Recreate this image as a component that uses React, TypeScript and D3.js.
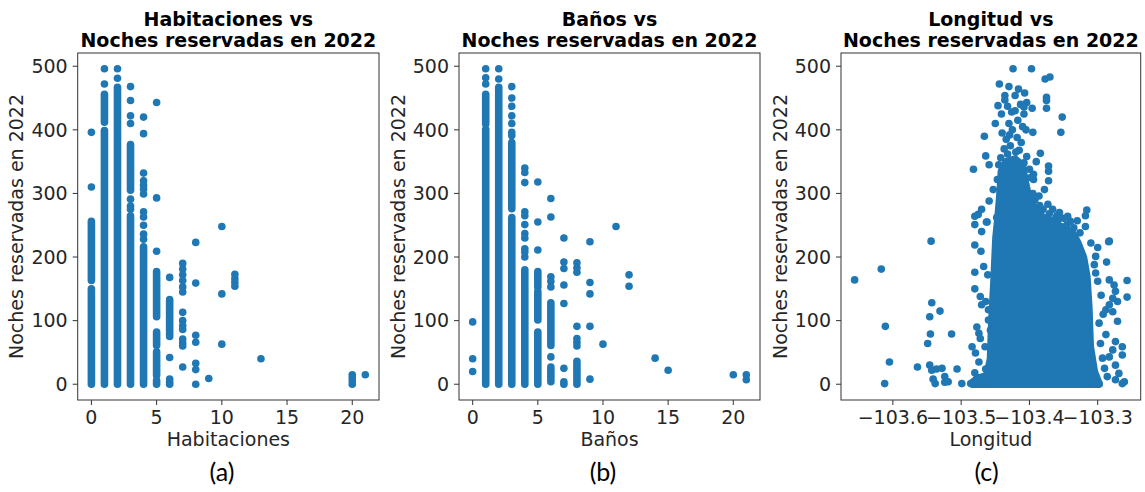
import React from "react";
import * as d3 from "d3";

// ---------- DATA ----------
const nightsTicks = [0, 100, 200, 300, 400, 500];
const countTicks = [0, 5, 10, 15, 20];
const lonTicks = [-103.6, -103.5, -103.4, -103.3];

// Habitaciones: dense runs of points [x, nightsFrom, nightsTo]
const habDenseRanges: [number, number, number][] = [
  [0, 163, 256], [0, 0, 150],
  [1, 412, 456], [1, 0, 399],
  [2, 0, 467],
  [3, 305, 377], [3, 0, 265],
  [4, 0, 216],
  [5, 106, 177], [5, 61, 82], [5, 14, 51], [5, 0, 6],
  [6, 75, 133],
];
// Habitaciones: single points [x, nights]
const habPoints: [number, number][] = [
  [0, 396], [0, 310],
  [1, 496], [1, 472],
  [2, 496], [2, 481],
  [3, 468], [3, 446], [3, 422], [3, 410], [3, 291], [3, 280], [3, 275],
  [4, 420], [4, 394], [4, 332], [4, 320], [4, 313], [4, 307], [4, 299], [4, 271], [4, 263], [4, 250], [4, 236], [4, 228],
  [5, 443], [5, 293], [5, 209],
  [6, 168], [6, 42], [6, 8], [6, 3], [6, 0],
  [7, 190], [7, 181], [7, 172], [7, 163], [7, 153], [7, 145], [7, 113], [7, 100], [7, 92], [7, 86], [7, 71], [7, 65], [7, 60], [7, 27],
  [8, 223], [8, 159], [8, 77], [8, 66], [8, 33], [8, 23], [8, 0],
  [9, 9],
  [10, 248], [10, 142], [10, 63],
  [11, 173], [11, 166], [11, 160], [11, 154],
  [13, 40],
  [20, 15], [20, 10], [20, 5], [20, 0],
  [21, 15],
];

// Baños: dense runs [x, nightsFrom, nightsTo]
const banosDenseRanges: [number, number, number][] = [
  [1, 409, 456], [1, 0, 401],
  [2, 0, 467],
  [3, 276, 380], [3, 0, 262],
  [4, 0, 180],
  [5, 153, 177], [5, 101, 146], [5, 0, 82],
  [6, 61, 128], [6, 4, 27],
  [8, 0, 36],
];
// Baños: single points
const banosPoints: [number, number][] = [
  [0, 98], [0, 40], [0, 20],
  [1, 496], [1, 482], [1, 472],
  [2, 496], [2, 480],
  [3, 468], [3, 450], [3, 437], [3, 422], [3, 410], [3, 396], [3, 391],
  [4, 340], [4, 333], [4, 317], [4, 271], [4, 265], [4, 251], [4, 237], [4, 230], [4, 213], [4, 208], [4, 200],
  [5, 318], [5, 255], [5, 211],
  [6, 292], [6, 263], [6, 169], [6, 162], [6, 153], [6, 43],
  [7, 230], [7, 192], [7, 182], [7, 156], [7, 127], [7, 25], [7, 4], [7, 0],
  [8, 191], [8, 183], [8, 176], [8, 91], [8, 72], [8, 66], [8, 60],
  [9, 224], [9, 160], [9, 142], [9, 91], [9, 8],
  [10, 63],
  [11, 248],
  [12, 172], [12, 154],
  [14, 41],
  [15, 22],
  [20, 15],
  [21, 15], [21, 7],
];

// Longitud: outline of the solid mass of overlapping points [lon, nights]
const lonDenseOutline: [number, number][] = [
  [-103.483, 0], [-103.478, 8], [-103.462, 14], [-103.457, 40], [-103.455, 100],
  [-103.452, 160], [-103.449, 230], [-103.446, 262], [-103.443, 300], [-103.441, 335],
  [-103.434, 350], [-103.421, 354], [-103.411, 345], [-103.406, 318], [-103.401, 292],
  [-103.388, 268], [-103.370, 256], [-103.350, 246], [-103.336, 236], [-103.329, 222],
  [-103.321, 200], [-103.316, 170], [-103.313, 120], [-103.311, 60], [-103.305, 20],
  [-103.300, 6], [-103.298, 0],
];
// Longitud: points outside the solid mass [lon, nights]
const lonPoints: [number, number][] = [
  [-103.656, 164], [-103.617, 181], [-103.611, 91], [-103.605, 35], [-103.612, 1],
  [-103.564, 27], [-103.544, 225], [-103.543, 128], [-103.531, 115], [-103.546, 106], [-103.545, 79], [-103.549, 64], [-103.514, 79],
  [-103.546, 30], [-103.543, 22], [-103.528, 25], [-103.536, 24], [-103.524, 12], [-103.538, 1], [-103.524, 3], [-103.519, 4], [-103.506, 24], [-103.499, 1], [-103.541, 8],
  [-103.480, 251], [-103.462, 255], [-103.470, 240], [-103.480, 219], [-103.471, 209], [-103.467, 185], [-103.480, 176], [-103.461, 172],
  [-103.480, 150], [-103.472, 138], [-103.464, 130], [-103.470, 125], [-103.460, 117], [-103.477, 90], [-103.474, 80], [-103.472, 72],
  [-103.465, 59], [-103.484, 59], [-103.479, 49], [-103.474, 35], [-103.464, 24], [-103.480, 18], [-103.482, 4], [-103.470, 1],
  [-103.460, 101], [-103.457, 85], [-103.486, 1], [-103.476, 10],
  [-103.283, 225], [-103.287, 192], [-103.303, 201], [-103.305, 188], [-103.303, 175], [-103.300, 162], [-103.283, 164], [-103.276, 156],
  [-103.257, 163], [-103.257, 137], [-103.274, 146], [-103.278, 135], [-103.271, 130], [-103.283, 125], [-103.288, 117], [-103.278, 114],
  [-103.271, 99], [-103.298, 96], [-103.288, 78], [-103.296, 64], [-103.274, 67], [-103.264, 59], [-103.264, 46], [-103.278, 54],
  [-103.293, 41], [-103.283, 43], [-103.274, 30], [-103.269, 17], [-103.286, 12], [-103.274, 7], [-103.261, 4], [-103.264, 1],
  [-103.298, 1], [-103.290, 25], [-103.295, 140], [-103.292, 110], [-103.300, 215], [-103.310, 222],
  [-103.424, 496], [-103.397, 496], [-103.377, 480], [-103.370, 483],
  [-103.444, 472], [-103.430, 468], [-103.416, 464], [-103.407, 458], [-103.436, 454], [-103.436, 447], [-103.421, 454],
  [-103.375, 451], [-103.375, 446], [-103.375, 434],
  [-103.446, 438], [-103.432, 437], [-103.413, 440], [-103.404, 443], [-103.408, 436], [-103.396, 434],
  [-103.441, 425], [-103.426, 428], [-103.421, 430], [-103.408, 425],
  [-103.352, 420], [-103.450, 410], [-103.430, 410], [-103.417, 415], [-103.410, 405], [-103.405, 400],
  [-103.354, 396], [-103.395, 396], [-103.466, 390], [-103.429, 392], [-103.434, 385], [-103.418, 388], [-103.412, 380],
  [-103.464, 359], [-103.459, 345], [-103.482, 338], [-103.384, 363], [-103.372, 343], [-103.372, 335], [-103.372, 320],
  [-103.390, 350], [-103.394, 330], [-103.394, 322], [-103.378, 306], [-103.453, 306], [-103.459, 288],
  [-103.470, 275], [-103.475, 267], [-103.480, 264], [-103.463, 255], [-103.448, 262],
  [-103.316, 274], [-103.318, 265], [-103.330, 257], [-103.345, 251], [-103.318, 248],
  [-103.380, 275], [-103.366, 275], [-103.358, 259], [-103.378, 259], [-103.284, 224],
  [-103.440, 395], [-103.425, 400],
  [-103.437, 370], [-103.428, 375], [-103.415, 368], [-103.432, 362], [-103.404, 358], [-103.408, 348],
  [-103.445, 345], [-103.400, 338], [-103.398, 325], [-103.447, 322], [-103.420, 365], [-103.442, 356],
  [-103.392, 290], [-103.385, 281], [-103.371, 268], [-103.360, 265], [-103.350, 261], [-103.340, 256],
  [-103.335, 246], [-103.326, 238], [-103.356, 270], [-103.373, 283], [-103.390, 272], [-103.400, 285],
  [-103.395, 300], [-103.386, 296], [-103.344, 264], [-103.365, 258],
];

// ---------- LAYOUT ----------
const W = 1145;
const H = 492;
const TOP = 53;
const BOTTOM = 400;
const BLUE = "#1f77b4";
const R = 3.8;
const FONT = "'DejaVu Sans', sans-serif";

function padded(lo: number, hi: number): [number, number] {
  const m = (hi - lo) * 0.05;
  return [lo - m, hi + m];
}

type PanelProps = {
  left: number;
  right: number;
  titleLine1: string;
  xLabel: string;
  caption: string;
  captionX: number;
  xValues: number[];
  yValues: number[];
  xTicks: number[];
  xFormat: (v: number) => string;
  ranges?: [number, number, number][];
  points: [number, number][];
  outline?: [number, number][];
};

function Panel(p: PanelProps) {
  const xd = padded(d3.min(p.xValues)!, d3.max(p.xValues)!);
  const yd = padded(d3.min(p.yValues)!, d3.max(p.yValues)!);
  const x = d3.scaleLinear().domain(xd).range([p.left, p.right]);
  const y = d3.scaleLinear().domain(yd).range([BOTTOM, TOP]);
  const cx = (p.left + p.right) / 2;
  const outlinePath = p.outline
    ? d3
        .line<[number, number]>()
        .x((d) => x(d[0]))
        .y((d) => y(d[1]))
        .curve(d3.curveLinearClosed)(p.outline)
    : null;
  return (
    <g fontFamily={FONT}>
      <text x={cx} y={26} textAnchor="middle" fontWeight="bold" fontSize={19} fill="#000">
        {p.titleLine1}
      </text>
      <text x={cx} y={47} textAnchor="middle" fontWeight="bold" fontSize={19} fill="#000">
        Noches reservadas en 2022
      </text>
      {outlinePath && (
        <path d={outlinePath} fill={BLUE} stroke={BLUE} strokeWidth={2 * R} strokeLinejoin="round" />
      )}
      {(p.ranges || []).map(([xv, a, b], i) => (
        <line
          key={"r" + i}
          x1={x(xv)}
          x2={x(xv)}
          y1={y(a)}
          y2={y(b)}
          stroke={BLUE}
          strokeWidth={2 * R}
          strokeLinecap="round"
        />
      ))}
      {p.points.map(([xv, yv], i) => (
        <circle key={"p" + i} cx={x(xv)} cy={y(yv)} r={R} fill={BLUE} />
      ))}
      <rect
        x={p.left}
        y={TOP}
        width={p.right - p.left}
        height={BOTTOM - TOP}
        fill="none"
        stroke="#333"
        strokeWidth={1}
      />
      {nightsTicks.map((t) => (
        <g key={"y" + t}>
          <line x1={p.left - 5} x2={p.left} y1={y(t)} y2={y(t)} stroke="#333" strokeWidth={1} />
          <text x={p.left - 10} y={y(t)} dy="0.36em" textAnchor="end" fontSize={19} fill="#262626">
            {t}
          </text>
        </g>
      ))}
      {p.xTicks.map((t) => (
        <g key={"x" + t}>
          <line x1={x(t)} x2={x(t)} y1={BOTTOM} y2={BOTTOM + 5} stroke="#333" strokeWidth={1} />
          <text x={x(t)} y={424} textAnchor="middle" fontSize={19} fill="#262626">
            {p.xFormat(t)}
          </text>
        </g>
      ))}
      <text x={cx} y={446} textAnchor="middle" fontSize={19} fill="#262626">
        {p.xLabel}
      </text>
      <text
        transform={`translate(${p.left - 54.5},${(TOP + BOTTOM) / 2}) rotate(-90)`}
        textAnchor="middle"
        fontSize={19}
        fill="#262626"
      >
        Noches reservadas en 2022
      </text>
      <text
        x={p.captionX}
        y={481}
        textAnchor="middle"
        fontSize={25}
        fontFamily="Lato, 'Open Sans', sans-serif"
        fill="#000"
      >
        {p.caption}
      </text>
    </g>
  );
}

export default function App() {
  const fmtInt = d3.format("d");
  const fmtLon = d3.format(".1f");
  return (
    <svg
      width={W}
      height={H}
      style={{ position: "absolute", left: 0, top: 0, background: "#fff" }}
    >
      <rect width={W} height={H} fill="#fff" />
      <Panel
        left={77.7}
        right={379}
        titleLine1="Habitaciones vs"
        xLabel="Habitaciones"
        caption="(a)"
        captionX={222}
        xValues={[...habPoints.map((d) => d[0]), ...habDenseRanges.map((d) => d[0])]}
        yValues={[...habPoints.map((d) => d[1]), ...habDenseRanges.flatMap((d) => [d[1], d[2]])]}
        xTicks={countTicks}
        xFormat={fmtInt}
        ranges={habDenseRanges}
        points={habPoints}
      />
      <Panel
        left={459}
        right={760}
        titleLine1="Baños vs"
        xLabel="Baños"
        caption="(b)"
        captionX={603}
        xValues={[...banosPoints.map((d) => d[0]), ...banosDenseRanges.map((d) => d[0])]}
        yValues={[...banosPoints.map((d) => d[1]), ...banosDenseRanges.flatMap((d) => [d[1], d[2]])]}
        xTicks={countTicks}
        xFormat={fmtInt}
        ranges={banosDenseRanges}
        points={banosPoints}
      />
      <Panel
        left={841}
        right={1140.7}
        titleLine1="Longitud vs"
        xLabel="Longitud"
        caption="(c)"
        captionX={986.5}
        xValues={[...lonPoints.map((d) => d[0]), ...lonDenseOutline.map((d) => d[0])]}
        yValues={[...lonPoints.map((d) => d[1]), ...lonDenseOutline.map((d) => d[1])]}
        xTicks={lonTicks}
        xFormat={fmtLon}
        points={lonPoints}
        outline={lonDenseOutline}
      />
    </svg>
  );
}
